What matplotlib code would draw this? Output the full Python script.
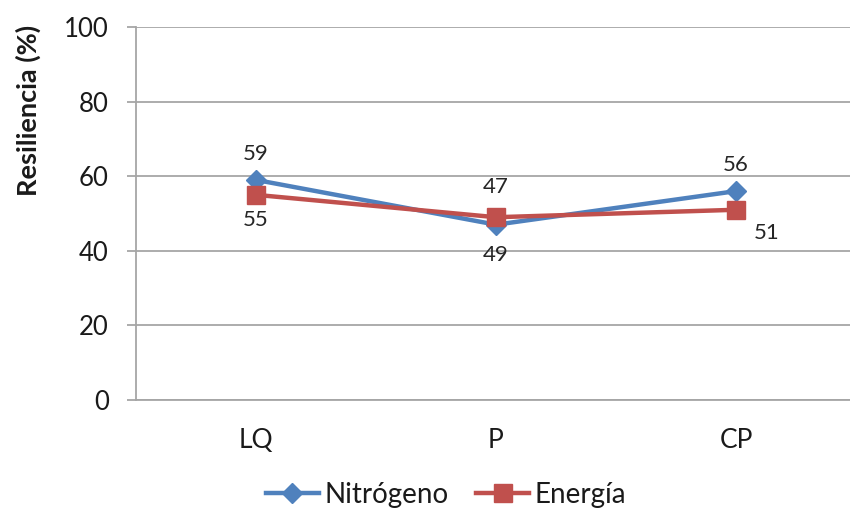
import matplotlib
matplotlib.use("Agg")
import matplotlib.pyplot as plt
from matplotlib.lines import Line2D

categories = ["LQ", "P", "CP"]
nitrogeno = [59, 47, 56]
energia = [55, 49, 51]
y_ticks = [0, 20, 40, 60, 80, 100]

BLUE = "#4F81BD"
RED = "#C0504D"
GRID = "#A6A6A6"
FONT = "Lato"

plt.rcParams["font.family"] = [FONT, "DejaVu Sans"]

W, H = 850, 511
fig = plt.figure(figsize=(W / 100, H / 100), dpi=100)
ax_left, ax_right, ax_top, ax_bottom = 136, 856, 27, 400
ax = fig.add_axes([ax_left / W, 1 - ax_bottom / H,
                   (ax_right - ax_left) / W, (ax_bottom - ax_top) / H])

x = list(range(len(categories)))
ax.plot(x, nitrogeno, color=BLUE, lw=3.2, marker="D", markersize=10.5,
        markeredgecolor=BLUE, label="Nitrógeno", zorder=3, clip_on=False)
ax.plot(x, energia, color=RED, lw=3.2, marker="s", markersize=13,
        markeredgecolor=RED, label="Energía", zorder=4, clip_on=False)

# per-point label offsets (points): nitrogen labels above, energy labels below
n_offsets = [(0, 19), (0, 27), (0, 19)]
e_offsets = [(0, -18), (0, -27), (22, -17)]
for xi, v, off in zip(x, nitrogeno, n_offsets):
    ax.annotate(str(v), (xi, v), xytext=off, textcoords="offset points",
                ha="center", va="center", fontsize=16, color="#262626")
for xi, v, off in zip(x, energia, e_offsets):
    ax.annotate(str(v), (xi, v), xytext=off, textcoords="offset points",
                ha="center", va="center", fontsize=16, color="#262626")

ax.set_xlim(-0.5, -0.5 + (ax_right - ax_left) / 240)
ax.set_ylim(0, 100)
ax.set_yticks(y_ticks)
ax.set_xticks(x)
ax.set_xticklabels(categories)
ax.yaxis.grid(True, color=GRID, lw=1.3)
ax.set_axisbelow(True)

for side in ["top", "right"]:
    ax.spines[side].set_visible(False)
ax.spines["left"].set_color(GRID)
ax.spines["left"].set_linewidth(1.3)
ax.spines["bottom"].set_color(GRID)
ax.spines["bottom"].set_linewidth(1.3)

ax.tick_params(axis="y", length=6.5, width=1.3, color=GRID, pad=13,
               labelsize=18.5, labelcolor="#1a1a1a")
ax.tick_params(axis="x", length=0, pad=20, labelsize=19, labelcolor="#1a1a1a")

fig.text(28 / W, 1 - 110 / H, "Resiliencia (%)", rotation=90, ha="center",
         va="center", fontsize=19.5, fontweight="bold", color="#1a1a1a")

handles = [
    Line2D([], [], color=BLUE, lw=3.2, marker="D", markersize=10.5),
    Line2D([], [], color=RED, lw=3.2, marker="s", markersize=13),
]
fig.legend(handles, ["Nitrógeno", "Energía"], loc="center",
           bbox_to_anchor=(446 / W, 1 - 495 / H), ncol=2, frameon=False,
           fontsize=20, handlelength=1.9, columnspacing=1.0, handletextpad=0.2,
           labelcolor="#1a1a1a")

fig.savefig("out.png", dpi=100)
